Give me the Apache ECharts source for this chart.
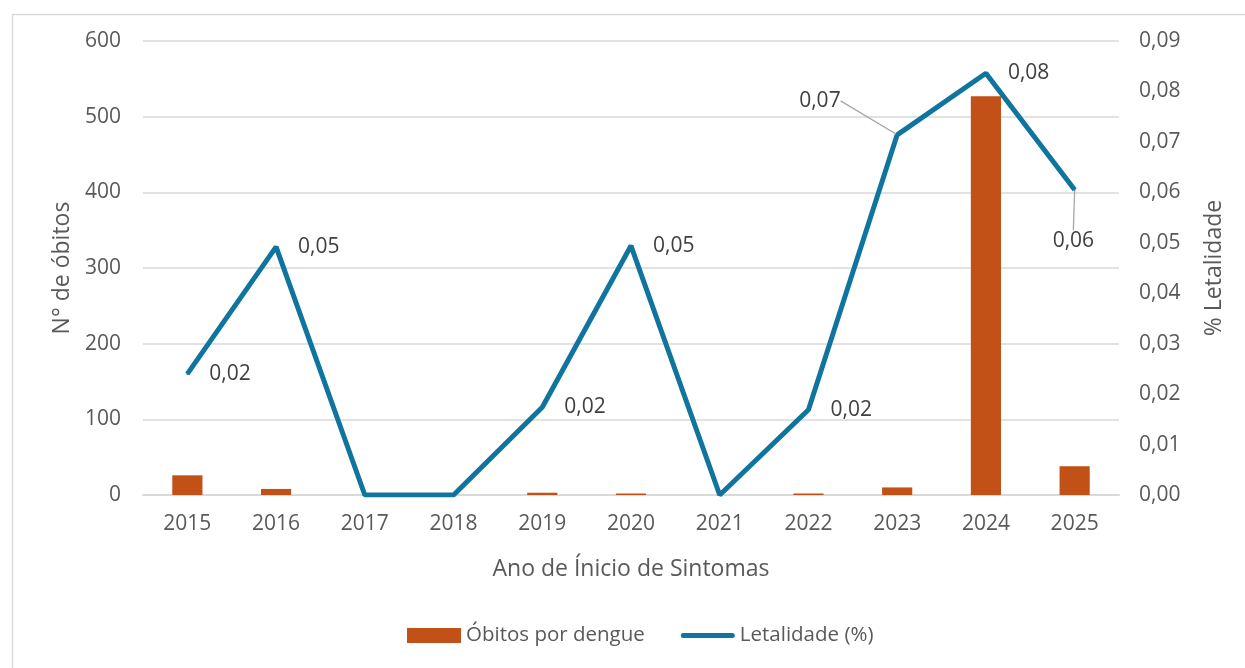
<!DOCTYPE html>
<html>
<head>
<meta charset="utf-8">
<script src="https://cdn.jsdelivr.net/npm/echarts@6/dist/echarts.min.js"></script>
<style>
html,body{margin:0;padding:0;background:#fff;}
#c{width:1245px;height:668px;}
</style>
</head>
<body>
<div id="c"></div>
<script>
var years = ['2015','2016','2017','2018','2019','2020','2021','2022','2023','2024','2025'];
var obitos = [26, 8, 0, 0, 3, 2, 0, 2, 10, 527, 38];
var letalidade = [0.024, 0.0492, 0, 0, 0.0174, 0.0494, 0, 0.0169, 0.0714, 0.0836, 0.0605];
var leftTicks = [0, 100, 200, 300, 400, 500, 600];
var rightTicks = [0, 0.01, 0.02, 0.03, 0.04, 0.05, 0.06, 0.07, 0.08, 0.09];

var FONT = '"Open Sans", sans-serif';
var GRAY = '#595959';
var chart = echarts.init(document.getElementById('c'));

var lineData = letalidade.map(function (v, i) {
  var item = { value: v, label: { show: v > 0 } };
  if (i === 8 || i === 10) {
    item.labelLine = { show: true, lineStyle: { color: '#a6a6a6', width: 1.3 } };
  }
  return item;
});

chart.setOption({
  animation: false,
  textStyle: { fontFamily: FONT },
  graphic: [{
    type: 'rect', left: 10, top: 12,
    shape: { width: 1300, height: 720 },
    style: { fill: 'none', stroke: '#d9d9d9', lineWidth: 1.3 },
    z: -10
  }],
  grid: { left: 143, right: 126, top: 41, bottom: 173 },
  legend: {
    bottom: 17, left: 402,
    itemGap: 36, itemWidth: 54, itemHeight: 15,
    textStyle: { fontSize: 20.5, color: GRAY, fontFamily: FONT },
    data: [
      { name: 'Óbitos por dengue', icon: 'rect' },
      { name: 'Letalidade (%)', icon: 'path://M2.5,0 L51.5,0 A2.5,2.5 0 0 1 51.5,5 L2.5,5 A2.5,2.5 0 0 1 2.5,0 Z' }
    ]
  },
  xAxis: {
    type: 'category',
    data: years,
    name: 'Ano de Ínicio de Sintomas',
    nameLocation: 'middle',
    nameGap: 63,
    nameTextStyle: { fontSize: 23, color: GRAY, fontFamily: FONT },
    axisLine: { lineStyle: { color: '#d9d9d9', width: 2 } },
    axisTick: { show: false },
    axisLabel: { fontSize: 21, color: GRAY, margin: 19, fontFamily: FONT }
  },
  yAxis: [{
    type: 'value', min: 0, max: 600, interval: 100,
    name: 'N° de óbitos',
    nameLocation: 'middle', nameGap: 66, nameRotate: 90,
    nameTextStyle: { fontSize: 23, color: GRAY, fontFamily: FONT },
    axisLine: { show: false }, axisTick: { show: false },
    axisLabel: { fontSize: 21, color: GRAY, margin: 22, fontFamily: FONT,
      formatter: function (v) { return leftTicks.indexOf(v) >= 0 ? String(v) : ''; } },
    splitLine: { lineStyle: { color: '#d9d9d9', width: 1.5 } }
  }, {
    type: 'value', min: 0, max: 0.09, interval: 0.01,
    name: '% Letalidade',
    nameLocation: 'middle', nameGap: 84, nameRotate: 90,
    nameTextStyle: { fontSize: 23, color: GRAY, fontFamily: FONT },
    axisLine: { show: false }, axisTick: { show: false },
    axisLabel: { fontSize: 21, color: GRAY, margin: 20, fontFamily: FONT,
      formatter: function (v) { return v.toFixed(2).replace('.', ','); } },
    splitLine: { show: false }
  }],
  series: [{
    name: 'Óbitos por dengue',
    type: 'bar',
    data: obitos,
    barWidth: '34%',
    itemStyle: { color: '#C25117' },
    yAxisIndex: 0
  }, {
    name: 'Letalidade (%)',
    type: 'line',
    yAxisIndex: 1,
    data: lineData,
    symbol: 'circle', symbolSize: 2, showSymbol: true,
    itemStyle: { color: '#10759E' },
    lineStyle: { color: '#10759E', width: 5 },
    label: {
      show: true, position: 'right', distance: 21,
      fontSize: 21, color: '#404040', fontFamily: FONT,
      formatter: function (p) { return p.value.toFixed(2).replace('.', ','); }
    },
    labelLayout: function (p) {
      if (p.dataIndex === 8) return { dx: -120, dy: -34 };
      if (p.dataIndex === 10) return { dx: -44, dy: 51 };
      return {};
    },
    z: 5
  }]
});
</script>
</body>
</html>
